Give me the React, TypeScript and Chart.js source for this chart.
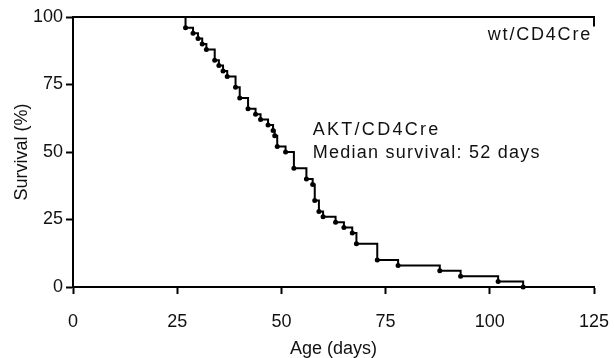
import { useEffect, useRef } from 'react';
import { Chart, registerables } from 'chart.js';

Chart.register(...registerables);

// Kaplan–Meier data (AKT/CD4Cre): event times (days) and survival after each event (%)
const aktDays = [0, 27, 28.8, 30, 31, 32, 34, 35, 36, 37, 39, 40, 42, 43.8, 45, 46.8, 48, 48.4, 49, 51, 53, 56, 57.5, 58, 59, 60, 63, 65, 67, 68, 73, 78, 88, 93, 102, 108];
const aktSurvival = [100, 96, 94, 92, 90, 88, 84, 82, 80, 78, 74, 70, 66, 64, 62, 60, 58, 56, 52, 50, 44, 40, 38, 32, 28, 26, 24, 22, 20, 16, 10, 8, 6, 4, 2, 0];

// wt/CD4Cre: no deaths, censored at end of follow-up
const wtDays = [0, 125, 125];
const wtSurvival = [100, 100, 96.5];

const xTicks = [0, 25, 50, 75, 100, 125];
const yTicks = [0, 25, 50, 75, 100];

const FONT = '"Liberation Sans", Arial, sans-serif';
const TEXT = '#111';

export default function App() {
  const ref = useRef<HTMLCanvasElement>(null);

  useEffect(() => {
    if (!ref.current) return;

    const labelsPlugin = {
      id: 'kmLabels',
      afterDatasetsDraw(chart: any) {
        const { ctx, scales } = chart;
        const x = scales.x;
        const y = scales.y;
        ctx.save();
        ctx.fillStyle = TEXT;
        ctx.font = `18px ${FONT}`;
        ctx.textBaseline = 'alphabetic';
        (ctx as any).letterSpacing = '2.3px';
        ctx.textAlign = 'left';
        ctx.fillText('AKT/CD4Cre', x.getPixelForValue(57.5), y.getPixelForValue(56.4));
        (ctx as any).letterSpacing = '1.25px';
        ctx.fillText('Median survival: 52 days', x.getPixelForValue(57.5), y.getPixelForValue(47.8));
        (ctx as any).letterSpacing = '1.8px';
        ctx.textAlign = 'right';
        ctx.fillText('wt/CD4Cre', x.getPixelForValue(125) - 2, y.getPixelForValue(91.3));
        ctx.restore();
      },
    };

    const chart = new Chart(ref.current, {
      type: 'line',
      data: {
        datasets: [
          {
            data: aktDays.map((d, i) => ({ x: d, y: aktSurvival[i] })),
            stepped: 'before',
            borderColor: '#000',
            borderWidth: 2,
            pointRadius: (c: any) => (c.dataIndex === 0 ? 0 : 2.5),
            pointBackgroundColor: '#000',
            pointBorderWidth: 0,
            pointHoverRadius: 0,
            fill: false,
            clip: false,
          } as any,
          {
            data: wtDays.map((d, i) => ({ x: d, y: wtSurvival[i] })),
            borderColor: '#000',
            borderWidth: 2,
            pointRadius: 0,
            pointHoverRadius: 0,
            fill: false,
            tension: 0,
            clip: false,
          } as any,
        ],
      },
      options: {
        animation: false,
        responsive: true,
        maintainAspectRatio: false,
        events: [],
        layout: { padding: { left: 0, right: 20, top: 17, bottom: 0 } },
        plugins: {
          legend: { display: false },
          tooltip: { enabled: false },
        },
        scales: {
          x: {
            type: 'linear',
            min: 0,
            max: 125,
            afterBuildTicks: (s: any) => {
              s.ticks = xTicks.map((v) => ({ value: v }));
            },
            afterFit: (s: any) => {
              s.height = 71;
              s.paddingLeft = 0;
              s.paddingRight = 0;
            },
            ticks: {
              font: { size: 18, family: FONT },
              color: TEXT,
              padding: 17,
              maxRotation: 0,
              autoSkip: false,
            },
            grid: {
              drawOnChartArea: false,
              drawTicks: true,
              tickLength: 7,
              tickWidth: 2,
              tickColor: '#000',
            },
            border: { color: '#000', width: 2 },
            title: {
              display: true,
              text: 'Age (days)',
              font: { size: 18, family: FONT },
              color: TEXT,
              padding: { top: 0, bottom: -2 },
            },
          },
          y: {
            type: 'linear',
            min: 0,
            max: 100,
            afterBuildTicks: (s: any) => {
              s.ticks = yTicks.map((v) => ({ value: v }));
            },
            afterFit: (s: any) => {
              s.width = 73;
              s.paddingTop = 0;
              s.paddingBottom = 0;
            },
            ticks: {
              font: { size: 18, family: FONT },
              color: TEXT,
              padding: 3,
              autoSkip: false,
            },
            grid: {
              drawOnChartArea: false,
              drawTicks: true,
              tickLength: 7,
              tickWidth: 2,
              tickColor: '#000',
            },
            border: { color: '#000', width: 2 },
            title: {
              display: true,
              text: 'Survival (%)',
              font: { size: 18, family: FONT },
              color: TEXT,
              padding: { top: 11, bottom: 0 },
            },
          },
        },
      } as any,
      plugins: [labelsPlugin],
    });

    return () => chart.destroy();
  }, []);

  return (
    <div style={{ position: 'fixed', left: 0, top: 0, width: 614, height: 358, background: '#fff' }}>
      <canvas ref={ref} />
    </div>
  );
}
